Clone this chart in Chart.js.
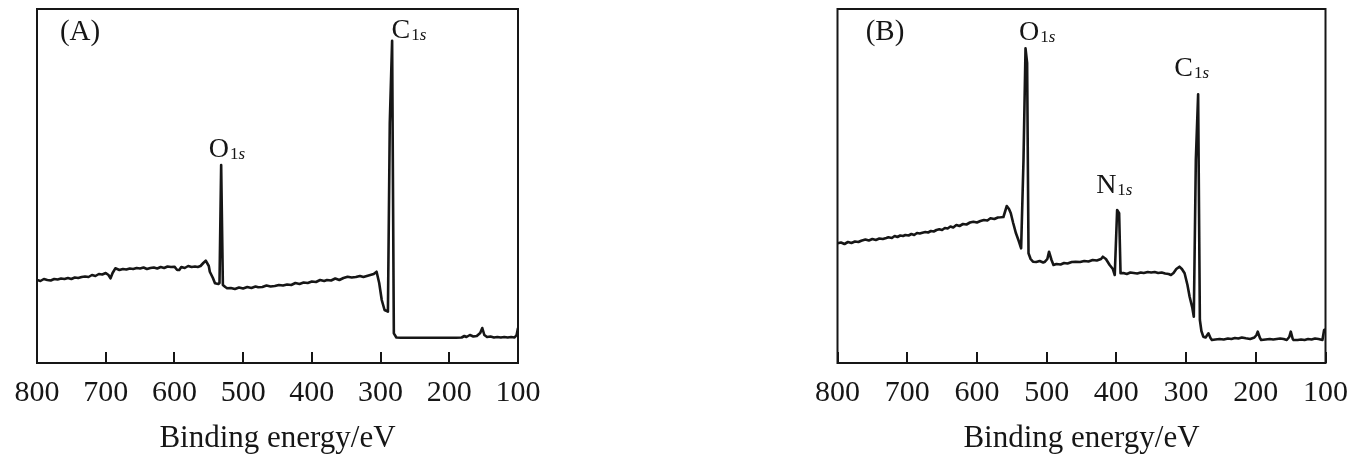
<!DOCTYPE html>
<html><head><meta charset="utf-8">
<script src="https://cdn.jsdelivr.net/npm/chart.js@4"></script>
<style>
html,body{margin:0;padding:0;background:#fff;width:1360px;height:466px;overflow:hidden}
.panel{position:absolute;top:0;width:560px;height:466px}
</style></head><body>
<div class="panel" style="left:0"><canvas id="cA" width="560" height="466"></canvas></div>
<div class="panel" style="left:800px"><canvas id="cB" width="560" height="466"></canvas></div>
<script>
// ---- data (binding energy in eV, intensity in arbitrary units) ----
const energyA = [800,795,790,785,780,775,770,765,760,755,750,745,740,735,730,725,720,715,710,705,700,696,693,690,686,680,675,670,665,660,655,650,645,640,635,630,625,620,615,610,605,600,596,593,590,585,580,575,570,566,562,558,554.4,550,548.5,544,541,536,534.4,532,529.5,526,523,518,512,506,500,494,488,482,478,472,466,460,454,448,442,436,430,424,418,412,406,400,394,388,382,378,372,366,360,354,348,342,336,330,325,320,315,310,305.8,302,298.3,294.2,289.3,286.6,283.2,280.7,277,270,250,220,190,182,178,175,170,165,160,155,152,149,145,140,135,130,125,120,115,110,105,102,100];
const intensityA = [83,82,84,83,82.5,84,83.5,84.5,84,85,84,85.5,85,86,86.5,86,88,87,89,88.5,90,88,84.7,90,94.7,93,94,93.5,94.5,94,95,94.5,95.5,94,95,95.5,94.5,96,95,96.5,96,96.3,93,93,96,95,97,96,96.5,96,97,100,102.3,97,91.3,85,79.7,79,80,198,78,76,74.7,75,74,75.5,74.5,76,75,76.5,75.7,76,77.5,76.5,77,78,77.5,78.5,78,80,79,80.5,80,81.5,81,83,82,83,82.5,84.5,83,85,86.3,85.5,86,87,86,87,88,89,91.3,80,63,53,51.3,239.7,322.3,29.7,25.5,25.3,25.3,25.3,25.3,25.5,27,26,28,26.5,27,30,35,28,26,26.5,25.5,26,25.5,26,25.5,26,25.5,28,35];

const energyB = [800,795,790,785,780,775,770,766,760,755,750,745,740,735,730,727,722,718,714,710,706,702.7,698,694,690,686,682,678.3,674,670,666,662,658,654,650,646,642,638,634,629.5,625,620,615,610,605,600,595,590,585,580.6,575,570,566,562,557.2,554,551.4,548,544,540,536.6,533.2,530.3,528,526,523,519.6,515,510,505,502.4,499,496.6,493,490.2,486,480,475,470,464,458.4,452,446,440,434,428,422,419.4,415,409.6,405,402.3,398.9,396,394,390,385,380,375,370,365,360.8,355,350,345,340,335,330,325,321.7,318,314,309.5,306,302.1,298,294.9,291,288.9,286,282.7,280.2,278,275.3,272,267.9,265,263,258,252,246,240,235,230,225,220,214.3,208,202,199,197.2,194,192.3,186,180,175,170,165,160,155.6,152,149.8,147,145.9,140,135,130,125,120,115,110,104.4,102,100];
const intensityB = [119.7,120.5,119,121,120,121.5,121,122.3,123.5,122.5,124,123,124.5,124,125,125.7,125,127,126,127.5,127,128,127.5,129,128,130,129.5,130.3,131,130.5,132,131.5,133,133.7,133,135,134.5,136.5,135.5,138,137,139,138.5,140.5,141.3,140.5,142,143,142.5,144.7,144,145.5,145.7,146,157,154,149.7,140,129.7,122,114.7,203,314.7,300,109.7,104,101.3,101,102,100.5,101.3,104,111.3,103,98,99,98.5,100,99.5,101,101.3,101,102,101.5,103,102.5,104,106.3,104,98,94,88,153,149.7,89.7,90,89,90.5,90,89.5,90.5,90,91,90.5,91,90,90.5,89.5,89,88,90,94,96.3,94,89.7,78,66.3,55,46.3,203,268.7,43,32,26.3,25.5,29.7,25,23,23.5,24,23.5,24.5,24,25,24.5,25.5,24.7,24,25.5,28,31.3,25,23,23.5,24,23.5,24,24.5,24,23,26,31.3,24,23,23,23.5,23,24,23.5,24.5,24,23,33,33.5];

const xTicks = [800,700,600,500,400,300,200,100];
const xTitle = 'Binding energy/eV';
const panelNames = ['(A)','(B)'];
const peaksA = [{main:'O', sub:'1s'}, {main:'C', sub:'1s'}];
const peaksB = [{main:'O', sub:'1s'}, {main:'N', sub:'1s'}, {main:'C', sub:'1s'}];

// ---- drawing ----
const SERIF = "'Liberation Serif','Times New Roman',serif";
const INK = '#161616';

const framePlugin = {
  id: 'frame',
  afterDraw(chart, args, opts) {
    const {ctx, chartArea: a, scales: {x, y}} = chart;
    ctx.save();
    ctx.strokeStyle = INK; ctx.lineWidth = 2;
    ctx.strokeRect(a.left, a.top, a.right - a.left, a.bottom - a.top);
    ctx.beginPath();
    x.ticks.forEach(t => {
      const px = Math.round(x.getPixelForValue(t.value));
      ctx.moveTo(px, a.bottom); ctx.lineTo(px, a.bottom - 11);
    });
    ctx.stroke();
    ctx.fillStyle = INK; ctx.textBaseline = 'alphabetic'; ctx.textAlign = 'left';
    opts.labels.forEach(l => {
      let px = x.getPixelForValue(l.e), py = y.getPixelForValue(l.v);
      ctx.font = (l.size || 28) + 'px ' + SERIF;
      ctx.fillText(l.main, px, py);
      px += ctx.measureText(l.main).width;
      if (l.sub) {
        ctx.font = '17px ' + SERIF;
        ctx.fillText(l.sub[0], px + 1, py + 2);
        px += 1 + ctx.measureText(l.sub[0]).width;
        ctx.font = 'italic 17px ' + SERIF;
        ctx.fillText(l.sub.slice(1), px, py + 2);
      }
    });
    ctx.restore();
  }
};

function makeChart(id, energy, intensity, padding, labels) {
  const pts = energy.map((e, i) => ({x: e, y: intensity[i]}));
  return new Chart(document.getElementById(id), {
    type: 'line',
    data: { datasets: [{ data: pts, borderColor: INK, borderWidth: 2.6, pointRadius: 0, tension: 0, borderJoinStyle: 'round', fill: false }] },
    options: {
      responsive: false, animation: false, devicePixelRatio: 1,
      layout: { padding },
      plugins: { legend: {display: false}, tooltip: {enabled: false}, frame: { labels } },
      scales: {
        x: {
          type: 'linear', reverse: true, min: 100, max: 800,
          afterBuildTicks: s => { s.ticks = xTicks.map(v => ({value: v})); },
          ticks: { font: {family: SERIF, size: 30}, color: INK, padding: 12, maxRotation: 0, autoSkip: false },
          grid: { display: false, drawTicks: false },
          border: { display: false },
          title: { display: true, text: xTitle, font: {family: SERIF, size: 31}, color: INK, padding: {top: 0, bottom: 9} },
          afterFit: s => { s.height = 103; }
        },
        y: { display: false, min: 0, max: 354 }
      }
    },
    plugins: [framePlugin]
  });
}

makeChart('cA', energyA, intensityA, {left: 37, right: 42, top: 9, bottom: 0}, [
  {main: panelNames[0], e: 766.6, v: 323, size: 29},
  {main: peaksA[0].main, sub: peaksA[0].sub, e: 550, v: 206},
  {main: peaksA[1].main, sub: peaksA[1].sub, e: 284, v: 325}
]);
makeChart('cB', energyB, intensityB, {left: 37.5, right: 29, top: 9, bottom: 0}, [
  {main: panelNames[1], e: 759.6, v: 323, size: 29},
  {main: peaksB[0].main, sub: peaksB[0].sub, e: 539.7, v: 323},
  {main: peaksB[1].main, sub: peaksB[1].sub, e: 429, v: 170},
  {main: peaksB[2].main, sub: peaksB[2].sub, e: 317, v: 287}
]);
</script>
</body></html>
